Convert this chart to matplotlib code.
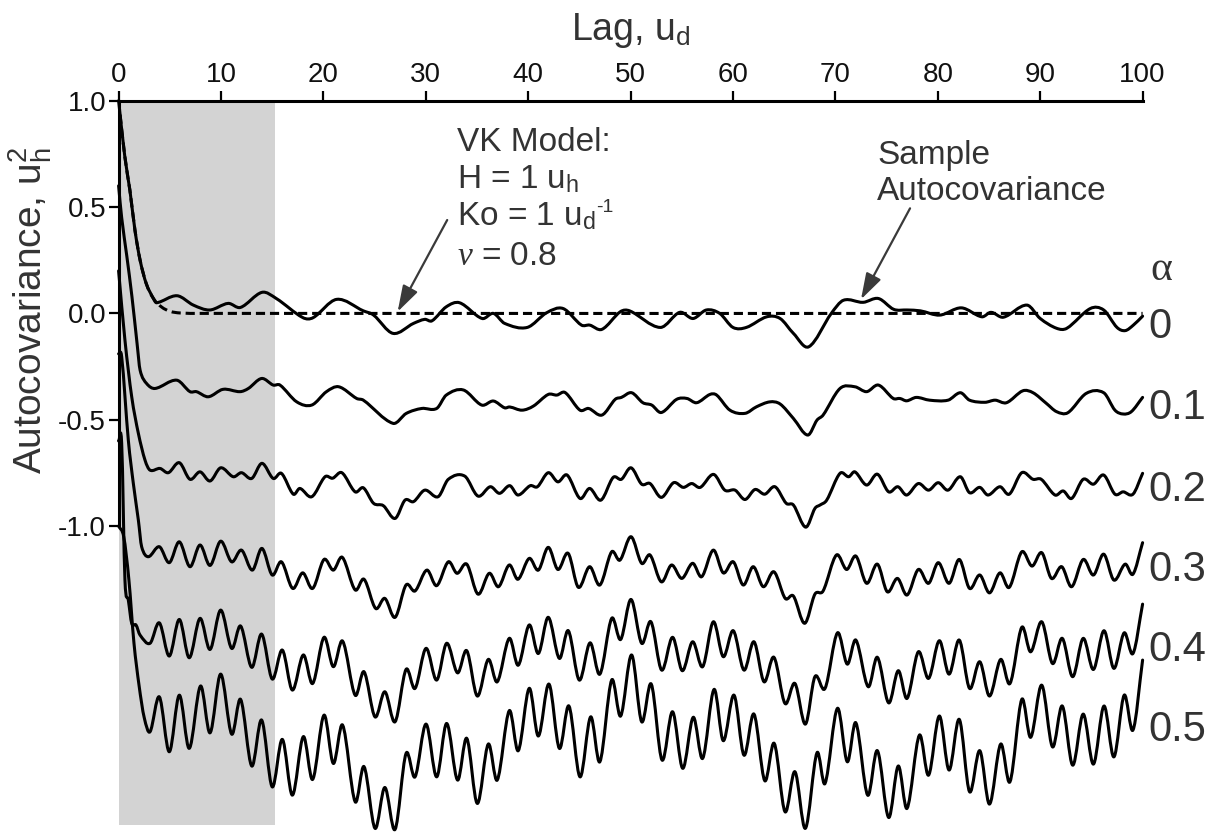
import numpy as np
import matplotlib
matplotlib.use("Agg")
import matplotlib.pyplot as plt
from matplotlib.patches import FancyArrowPatch, PathPatch
from matplotlib.path import Path

plt.rcParams['font.family'] = ['Liberation Sans', 'DejaVu Sans']
plt.rcParams['mathtext.fontset'] = 'custom'
plt.rcParams['mathtext.rm'] = 'Liberation Sans'
plt.rcParams['mathtext.it'] = 'Liberation Serif:italic'
plt.rcParams['axes.unicode_minus'] = False

# ---- data: (lag, autocovariance) ----
vk_model = [(0, 1.0), (0.6, 0.74), (1.1, 0.58), (1.6, 0.39), (2.1, 0.25), (2.7, 0.14),
            (3.4, 0.07), (4.2, 0.03), (5.0, 0.01), (6.0, 0.002), (8.0, 0.0), (100, 0.0)]

a00 = [(0, 1.0), (0.6, 0.74), (1.1, 0.58), (1.6, 0.39), (2.1, 0.25), (2.7, 0.14), (3.4, 0.07),
       (3.7, 0.05), (5.7, 0.083), (7.3, 0.039), (8.9, 0.016), (10.7, 0.047), (11.9, 0.028),
       (14.0, 0.099), (15.4, 0.07), (18.0, -0.02), (19.0, -0.02), (21.3, 0.066), (23.9, 0.012),
       (24.9, -0.008), (26.8, -0.094), (28.8, -0.047), (29.9, -0.028), (30.6, -0.035),
       (32.0, 0.031), (33.3, 0.05), (35.5, -0.024), (36.6, 0.0), (37.7, -0.047), (39.9, -0.066),
       (41.8, 0.003), (43.4, 0.023), (45.2, -0.055), (46.0, -0.055), (47.2, -0.075), (49.0, 0.008),
       (49.9, 0.012), (52.9, -0.066), (54.8, 0.005), (56.1, -0.024), (57.4, 0.016), (58.7, 0.0),
       (60.0, -0.066), (61.3, -0.066), (63.3, -0.016), (64.6, -0.024), (65.9, -0.094),
       (67.4, -0.157), (69.6, 0.0), (70.8, 0.062), (72.7, 0.052), (74.2, 0.07), (75.7, 0.019),
       (77.0, 0.016), (78.3, 0.012), (80.2, -0.008), (82.3, 0.026), (84.3, -0.016), (85.2, 0.005),
       (86.4, -0.018), (88.7, 0.039), (90.0, -0.024), (91.6, -0.07), (92.6, -0.07), (94.9, 0.023),
       (96.2, 0.016), (97.5, -0.066), (98.3, -0.081), (99.1, -0.055), (100.0, -0.013)]

a01 = [(0, 0.6), (0.3, 0.45), (0.8, 0.27), (1.3, 0.08), (1.8, -0.14), (2.1, -0.267), (2.74, -0.33),
       (3.55, -0.353), (5.67, -0.314), (6.97, -0.368), (7.6, -0.368), (8.76, -0.392), (10.2, -0.357),
       (11.86, -0.368), (12.67, -0.353), (13.97, -0.306), (15.1, -0.337), (15.76, -0.337),
       (17.4, -0.416), (18.86, -0.431), (20.3, -0.368), (21.5, -0.345), (23.25, -0.4), (23.9, -0.408),
       (26.8, -0.517), (28.1, -0.47), (29.6, -0.447), (31.06, -0.447), (32.0, -0.384), (33.66, -0.36),
       (35.46, -0.431), (36.6, -0.412), (37.7, -0.444), (38.2, -0.44), (39.4, -0.455), (40.5, -0.436),
       (41.96, -0.381), (42.8, -0.384), (43.6, -0.372), (45.06, -0.455), (45.9, -0.447), (47.2, -0.478),
       (48.5, -0.404), (49.1, -0.395), (50.1, -0.373), (51.2, -0.42), (52.06, -0.431), (53.0, -0.466),
       (54.5, -0.404), (55.5, -0.4), (56.45, -0.42), (57.75, -0.381), (58.4, -0.384), (59.7, -0.455),
       (61.17, -0.47), (62.3, -0.439), (63.6, -0.416), (64.6, -0.426), (65.9, -0.494), (67.3, -0.572),
       (68.2, -0.502), (68.8, -0.478), (70.45, -0.353), (71.9, -0.345), (73.05, -0.368), (74.2, -0.337),
       (75.65, -0.4), (76.3, -0.4), (76.96, -0.411), (77.9, -0.395), (79.2, -0.408), (81.0, -0.408),
       (82.2, -0.373), (83.1, -0.408), (84.6, -0.418), (85.6, -0.408), (86.7, -0.42), (88.3, -0.364),
       (89.3, -0.373), (90.6, -0.423), (91.6, -0.462), (92.7, -0.467), (94.5, -0.376), (96.2, -0.373),
       (97.3, -0.455), (98.1, -0.473), (98.9, -0.462), (100.0, -0.395)]

a02 = [(0, 0.2), (0.62, -0.126), (1.28, -0.392), (1.93, -0.564), (2.58, -0.69), (3.07, -0.737),
       (4.04, -0.729), (4.86, -0.749), (5.93, -0.702), (6.97, -0.78), (7.95, -0.745), (8.93, -0.788),
       (9.97, -0.726), (11.2, -0.768), (12.0, -0.749), (13.0, -0.776), (14.0, -0.705), (15.1, -0.776),
       (15.9, -0.752), (17.06, -0.85), (17.7, -0.823), (18.86, -0.862), (20.16, -0.768), (20.9, -0.775),
       (21.8, -0.749), (23.1, -0.839), (23.9, -0.82), (24.9, -0.893), (25.85, -0.904), (27.0, -0.964),
       (27.97, -0.878), (28.8, -0.885), (29.9, -0.831), (31.2, -0.862), (32.2, -0.78), (33.8, -0.765),
       (35.1, -0.859), (36.3, -0.815), (37.2, -0.846), (38.2, -0.81), (39.0, -0.854), (40.2, -0.81),
       (40.9, -0.815), (41.96, -0.749), (42.9, -0.792), (43.8, -0.76), (45.06, -0.87), (46.0, -0.823),
       (47.1, -0.878), (48.3, -0.771), (49.1, -0.78), (50.04, -0.726), (51.08, -0.803), (51.9, -0.8),
       (53.0, -0.865), (54.2, -0.796), (55.15, -0.818), (55.97, -0.8), (56.8, -0.818), (58.1, -0.757),
       (59.2, -0.831), (60.2, -0.831), (61.17, -0.875), (62.15, -0.828), (63.1, -0.85), (64.1, -0.815),
       (65.2, -0.893), (65.9, -0.901), (67.1, -1.005), (68.0, -0.917), (68.5, -0.901), (69.15, -0.878),
       (70.45, -0.752), (71.3, -0.768), (71.9, -0.745), (73.05, -0.807), (74.1, -0.756), (75.2, -0.839),
       (76.1, -0.815), (76.96, -0.854), (78.1, -0.8), (79.1, -0.831), (80.04, -0.796), (81.0, -0.831),
       (82.2, -0.768), (83.1, -0.843), (84.1, -0.818), (84.9, -0.854), (86.07, -0.815), (86.98, -0.85),
       (88.2, -0.749), (89.3, -0.78), (90.1, -0.78), (91.45, -0.854), (92.25, -0.835), (93.07, -0.87),
       (94.2, -0.78), (95.2, -0.803), (96.2, -0.76), (97.3, -0.85), (98.1, -0.839), (99.06, -0.85),
       (100.0, -0.752)]

a03 = [(0, -0.19), (0.3, -0.204), (0.95, -0.596), (1.44, -0.8), (1.93, -0.972), (2.25, -1.097),
       (2.9, -1.144), (3.98, -1.097), (4.95, -1.172), (5.93, -1.074), (6.97, -1.191), (7.95, -1.089),
       (8.93, -1.185), (9.97, -1.071), (11.04, -1.168), (12.0, -1.113), (13.06, -1.207), (14.0, -1.105),
       (15.0, -1.23), (15.9, -1.168), (17.0, -1.293), (17.98, -1.22), (18.95, -1.293), (20.06, -1.157),
       (20.97, -1.207), (21.85, -1.147), (23.1, -1.3), (23.97, -1.25), (25.1, -1.387), (26.0, -1.34),
       (27.0, -1.429), (28.07, -1.277), (28.95, -1.305), (30.1, -1.207), (31.06, -1.28), (32.2, -1.168),
       (33.05, -1.222), (34.0, -1.179), (35.1, -1.32), (36.2, -1.222), (37.1, -1.285), (38.15, -1.183),
       (39.0, -1.25), (40.1, -1.152), (40.99, -1.207), (41.96, -1.1), (42.9, -1.204), (43.9, -1.128),
       (44.9, -1.288), (46.0, -1.191), (47.0, -1.277), (48.15, -1.121), (48.96, -1.16), (50.04, -1.05),
       (51.08, -1.175), (51.9, -1.136), (53.0, -1.262), (54.0, -1.183), (55.0, -1.246), (56.06, -1.175),
       (56.94, -1.238), (58.08, -1.113), (59.05, -1.22), (60.03, -1.168), (61.0, -1.277), (61.98, -1.191),
       (62.96, -1.285), (64.0, -1.215), (65.1, -1.34), (65.9, -1.329), (67.0, -1.457), (68.0, -1.32),
       (68.8, -1.305), (70.1, -1.136), (71.1, -1.204), (72.0, -1.141), (73.05, -1.269), (74.1, -1.179),
       (75.07, -1.309), (76.06, -1.246), (77.0, -1.324), (78.1, -1.204), (79.1, -1.269), (80.05, -1.172),
       (81.1, -1.269), (82.1, -1.157), (83.1, -1.293), (84.1, -1.23), (85.05, -1.314), (86.07, -1.22),
       (86.98, -1.288), (88.2, -1.121), (89.2, -1.188), (90.15, -1.125), (91.1, -1.246), (92.1, -1.191),
       (93.07, -1.285), (94.2, -1.157), (95.2, -1.23), (96.2, -1.132), (97.2, -1.254), (98.3, -1.179),
       (99.06, -1.226), (100.0, -1.078)]

a04 = [(0, -0.6), (0.3, -0.611), (0.62, -1.254), (0.95, -1.348), (1.28, -1.457), (1.7, -1.465),
       (2.09, -1.512), (3.07, -1.551), (3.98, -1.455), (4.95, -1.611), (5.93, -1.439), (6.9, -1.619),
       (7.95, -1.434), (8.93, -1.58), (9.97, -1.395), (11.04, -1.575), (11.92, -1.47), (13.0, -1.664),
       (13.97, -1.508), (15.0, -1.719), (15.99, -1.583), (16.97, -1.771), (18.04, -1.606), (18.95, -1.74),
       (20.06, -1.523), (20.97, -1.661), (21.88, -1.541), (23.1, -1.795), (23.97, -1.685), (25.04, -1.897),
       (26.0, -1.779), (27.0, -1.92), (28.07, -1.674), (28.95, -1.763), (30.02, -1.575), (31.06, -1.724),
       (32.04, -1.551), (33.1, -1.69), (34.0, -1.586), (35.03, -1.799), (36.1, -1.627), (36.98, -1.732),
       (38.15, -1.528), (39.03, -1.654), (40.1, -1.465), (40.99, -1.599), (41.96, -1.429), (43.04, -1.622),
       (43.92, -1.492), (44.99, -1.724), (46.04, -1.549), (47.0, -1.696), (48.15, -1.434), (49.03, -1.533),
       (50.04, -1.345), (51.08, -1.551), (51.99, -1.45), (53.03, -1.677), (54.1, -1.523), (55.05, -1.68),
       (56.06, -1.544), (57.04, -1.661), (58.08, -1.45), (59.05, -1.614), (60.03, -1.492), (61.07, -1.677),
       (62.05, -1.544), (63.03, -1.732), (64.0, -1.617), (65.08, -1.834), (66.05, -1.74), (67.07, -1.931),
       (68.0, -1.708), (68.99, -1.763), (70.2, -1.502), (71.16, -1.649), (72.0, -1.536), (73.2, -1.755),
       (74.1, -1.617), (75.2, -1.831), (76.14, -1.68), (77.0, -1.81), (78.1, -1.591), (79.1, -1.716),
       (80.15, -1.539), (81.1, -1.696), (82.1, -1.536), (83.1, -1.763), (84.1, -1.638), (85.05, -1.799),
       (86.14, -1.627), (87.05, -1.74), (88.2, -1.476), (89.07, -1.591), (90.15, -1.45), (91.2, -1.646),
       (92.16, -1.528), (93.17, -1.708), (94.2, -1.528), (95.2, -1.674), (96.23, -1.492), (97.2, -1.669),
       (98.2, -1.502), (99.06, -1.599), (100.0, -1.367)]

a05 = [(0, -1.0), (0.5, -1.05), (1.0, -1.25), (1.5, -1.55), (2.0, -1.75), (2.5, -1.9), (3.07, -1.967),
       (3.98, -1.803), (4.95, -2.061), (5.93, -1.795), (6.9, -2.045), (8.0, -1.752), (8.93, -1.972),
       (9.97, -1.696), (11.04, -1.978), (11.92, -1.815), (13.0, -2.128), (13.97, -1.912), (15.0, -2.226),
       (15.99, -2.003), (16.97, -2.265), (18.04, -1.99), (18.95, -2.191), (20.06, -1.889), (20.97, -2.116),
       (21.88, -1.936), (23.1, -2.296), (23.97, -2.131), (25.04, -2.421), (26.0, -2.229), (27.0, -2.426),
       (28.07, -2.069), (28.95, -2.179), (30.02, -1.931), (31.06, -2.179), (32.04, -1.928), (33.1, -2.194),
       (34.0, -1.998), (35.03, -2.304), (36.1, -2.025), (36.98, -2.194), (38.15, -1.868), (39.03, -2.056),
       (40.1, -1.763), (40.99, -1.987), (42.03, -1.743), (43.04, -2.045), (43.98, -1.846), (45.06, -2.179),
       (46.1, -1.897), (47.0, -2.108), (48.15, -1.724), (49.03, -1.893), (50.1, -1.606), (51.08, -1.92),
       (52.02, -1.743), (53.07, -2.1), (54.1, -1.873), (55.09, -2.139), (56.12, -1.899), (57.04, -2.092),
       (58.15, -1.768), (59.05, -2.009), (60.1, -1.795), (61.07, -2.077), (62.05, -1.884), (63.1, -2.197),
       (64.03, -2.022), (65.08, -2.343), (66.05, -2.155), (67.07, -2.421), (68.2, -2.066), (68.99, -2.21),
       (70.2, -1.857), (71.16, -2.108), (72.0, -1.925), (73.15, -2.265), (74.1, -2.056), (75.2, -2.37),
       (76.14, -2.128), (77.0, -2.327), (78.2, -1.983), (79.1, -2.171), (80.15, -1.893), (81.1, -2.147),
       (82.1, -1.909), (83.1, -2.249), (84.1, -2.056), (85.05, -2.307), (86.14, -2.025), (87.05, -2.202),
       (88.2, -1.815), (89.07, -1.993), (90.15, -1.748), (91.2, -2.038), (92.16, -1.846), (93.17, -2.124),
       (94.2, -1.884), (95.2, -2.119), (96.23, -1.846), (97.2, -2.085), (98.2, -1.795), (99.06, -1.959),
       (100.0, -1.63)]

curves = [a00, a01, a02, a03, a04, a05]
alpha_labels = ['0', '0.1', '0.2', '0.3', '0.4', '0.5']
alpha_label_y = [-0.065, -0.446, -0.83, -1.207, -1.583, -1.959]

x_ticks = [0, 10, 20, 30, 40, 50, 60, 70, 80, 90, 100]
y_ticks = [1.0, 0.5, 0.0, -0.5, -1.0]
y_ticklabels = ['1.0', '0.5', '0.0', '-0.5', '-1.0']

shade_end = 15.25
text_col = '#333333'


def smooth_path(pts):
    # draw the points as a smooth curve (cubic Bezier segments through every point)
    p = np.array(pts, float)
    x, y = p[:, 0], p[:, 1]
    n = len(p)
    m = np.zeros(n)
    m[0] = (y[1] - y[0]) / (x[1] - x[0])
    m[-1] = (y[-1] - y[-2]) / (x[-1] - x[-2])
    m[1:-1] = (y[2:] - y[:-2]) / (x[2:] - x[:-2])
    verts = [(x[0], y[0])]
    codes = [Path.MOVETO]
    for i in range(n - 1):
        h = x[i + 1] - x[i]
        verts += [(x[i] + h / 3, y[i] + m[i] * h / 3),
                  (x[i + 1] - h / 3, y[i + 1] - m[i + 1] * h / 3),
                  (x[i + 1], y[i + 1])]
        codes += [Path.CURVE4] * 3
    return Path(verts, codes)


fig = plt.figure(figsize=(12.25, 8.33), dpi=100)
ax = fig.add_axes([118.6 / 1225, 0, 1024 / 1225, 732.3 / 833])
ax.set_xlim(0, 100)
ax.set_ylim(-2.443, 1.0)

# grey band
ax.fill_between([0, shade_end], -2.405, 1.0, color='#d3d3d3', lw=0, zorder=0)

for c in curves:
    ax.add_patch(PathPatch(smooth_path(c), fill=False, ec='black', lw=2.2,
                           joinstyle='round', capstyle='round', zorder=3, clip_on=False))

ax.add_patch(PathPatch(smooth_path(vk_model), fill=False, ec='black', lw=2.2,
                       linestyle=(0, (3, 1.6)), zorder=4))

# axes styling
for s in ['bottom', 'right']:
    ax.spines[s].set_visible(False)
ax.spines['top'].set_linewidth(2.2)
ax.spines['left'].set_linewidth(2.2)
ax.spines['left'].set_bounds(-1.0, 1.0)
ax.xaxis.tick_top()
ax.set_xticks(x_ticks)
ax.set_yticks(y_ticks)
ax.set_yticklabels(y_ticklabels)
ax.tick_params(axis='both', direction='out', length=7, width=1.6, labelsize=20,
               colors='black', pad=2, labelcolor='#111111')

# axis titles
ax.text(50, 1.0 + (100.7 - 40) / 212.7, r'Lag, $\mathrm{u}_\mathrm{d}$', ha='center',
        va='baseline', fontsize=27, color=text_col, clip_on=False)
ax.text(-8.6, 0.016, r'Autocovariance, $\mathrm{u}_\mathrm{h}^\mathrm{2}$', rotation=90,
        ha='center', va='center', fontsize=28, color=text_col, clip_on=False)

# model annotation
ax.text(33.0, 0.763, 'VK Model:', ha='left', va='baseline', fontsize=24, color=text_col)
ax.text(33.0, 0.588, r'H = 1 $\mathrm{u}_\mathrm{h}$', ha='left', va='baseline', fontsize=24,
        color=text_col)
ko = ax.text(33.0, 0.415, r'Ko = 1 $\mathrm{u}_\mathrm{d}$', ha='left', va='baseline', fontsize=24,
             color=text_col)
ax.annotate('-1', xy=(1, 1), xycoords=ko, xytext=(0.5, 1), textcoords='offset points',
            ha='left', va='top', fontsize=14, color=text_col)
ax.text(33.0, 0.227, r'$\nu$ = 0.8', ha='left', va='baseline', fontsize=24, color=text_col)

ax.text(74.1, 0.701, 'Sample', ha='left', va='baseline', fontsize=24, color=text_col)
ax.text(74.1, 0.533, 'Autocovariance', ha='left', va='baseline', fontsize=24, color=text_col)

arrow_kw = dict(arrowstyle='-|>,head_length=0.8,head_width=0.25', mutation_scale=20,
                color='#3a3a3a', lw=1.6, zorder=5, shrinkA=0, shrinkB=0)
ax.add_patch(FancyArrowPatch((32.09, 0.439), (27.25, 0.008), **arrow_kw))
ax.add_patch(FancyArrowPatch((77.29, 0.494), (72.5, 0.066), **arrow_kw))

# alpha labels on the right
ax.text(100.8, 0.204, 'α', ha='left', va='center', fontsize=30, color=text_col,
        family='Liberation Serif', clip_on=False)
for lab, yy in zip(alpha_labels, alpha_label_y):
    ax.text(100.6, yy, lab, ha='left', va='center', fontsize=30, color=text_col, clip_on=False)

fig.savefig('out.png', dpi=100)
